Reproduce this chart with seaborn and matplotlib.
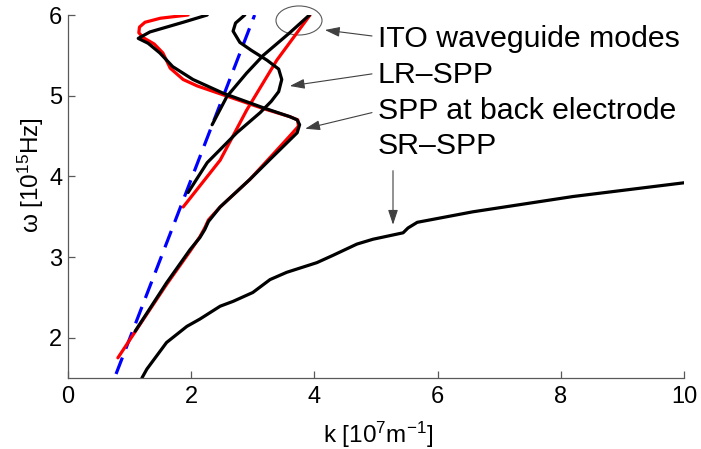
import matplotlib
matplotlib.use("Agg")
import matplotlib.pyplot as plt
import seaborn as sns
from matplotlib.patches import Ellipse

# light line (dashed blue)
k_light = [0.78, 3.03]
w_light = [1.55, 6.0]

# SPP at back electrode, red and black versions
k_back_red = [0.81, 1.2, 1.6, 1.98, 2.14, 2.22, 2.28, 2.47, 2.95, 3.3, 3.6, 3.74, 3.73, 3.6,
              3.17, 2.52, 2.1, 1.87, 1.66, 1.54, 1.4, 1.22, 1.15, 1.16, 1.25, 1.5, 1.95]
w_back_red = [1.75, 2.2, 2.66, 3.07, 3.25, 3.36, 3.46, 3.62, 3.96, 4.25, 4.5, 4.62, 4.7, 4.74,
              4.84, 5.01, 5.12, 5.2, 5.34, 5.53, 5.64, 5.72, 5.78, 5.85, 5.91, 5.96, 6.0]
k_back_blk = [1.09, 1.6, 1.98, 2.14, 2.22, 2.28, 2.47, 2.95, 3.28, 3.6, 3.72, 3.76, 3.72, 3.6,
              3.17, 2.52, 2.03, 1.7, 1.49, 1.3, 1.14, 1.33, 1.87, 2.26]
w_back_blk = [2.08, 2.68, 3.09, 3.24, 3.34, 3.44, 3.62, 3.96, 4.21, 4.45, 4.54, 4.64, 4.7, 4.74,
              4.85, 5.03, 5.2, 5.36, 5.53, 5.65, 5.71, 5.79, 5.91, 6.0]

# ITO waveguide mode (red), LR-SPP and ITO branch (black)
k_ito_red = [1.87, 2.47, 2.9, 3.39, 3.93]
w_ito_red = [3.62, 4.2, 4.82, 5.44, 6.0]
k_lr = [1.95, 2.26, 2.74, 3.12, 3.3, 3.42, 3.47, 3.42, 3.23, 2.98, 2.79, 2.68, 2.72, 2.87]
w_lr = [3.8, 4.17, 4.54, 4.79, 4.93, 5.05, 5.2, 5.33, 5.44, 5.56, 5.66, 5.8, 5.9, 6.0]
k_ito_blk = [2.34, 2.58, 2.9, 3.17, 3.6, 3.92]
w_ito_blk = [4.64, 4.99, 5.28, 5.5, 5.78, 6.0]

# SR-SPP
k_sr = [1.2, 1.28, 1.6, 1.93, 2.14, 2.47, 2.68, 3.0, 3.28, 3.55, 4.04, 4.3, 4.69, 4.95,
        5.44, 5.52, 5.67, 6.57, 8.2, 10.0]
w_sr = [1.5, 1.61, 1.94, 2.14, 2.23, 2.39, 2.45, 2.56, 2.72, 2.81, 2.93, 3.02, 3.16, 3.22,
        3.30, 3.36, 3.43, 3.56, 3.75, 3.92]

labels = ["ITO waveguide modes", "LR\u2013SPP", "SPP at back electrode", "SR\u2013SPP"]

sns.set_style("ticks")
plt.rcParams["font.family"] = ["Liberation Sans", "DejaVu Sans"]
plt.rcParams["mathtext.fontset"] = "custom"
plt.rcParams["mathtext.rm"] = "Liberation Sans"
plt.rcParams["mathtext.it"] = "Liberation Sans:italic"
plt.rcParams["text.color"] = "black"
plt.rcParams["axes.labelcolor"] = "black"

fig = plt.figure(figsize=(7.01, 4.49), dpi=100)
ax = fig.add_axes([68 / 701, 1 - 378 / 449, 616 / 701, 363 / 449])

lw = 2.3
sns.lineplot(x=k_light, y=w_light, sort=False, estimator=None, color="blue", lw=lw,
             linestyle=(0, (5.5, 3.0)), ax=ax)
for kk, ww in [(k_back_red, w_back_red), (k_ito_red, w_ito_red)]:
    sns.lineplot(x=kk, y=ww, sort=False, estimator=None, color="red", lw=lw, ax=ax)
for kk, ww in [(k_back_blk, w_back_blk), (k_lr, w_lr), (k_ito_blk, w_ito_blk), (k_sr, w_sr)]:
    sns.lineplot(x=kk, y=ww, sort=False, estimator=None, color="black", lw=lw, ax=ax)

ax.set_xlim(0, 10)
ax.set_ylim(1.5, 6)
ax.set_xticks([0, 2, 4, 6, 8, 10])
ax.set_yticks([2, 3, 4, 5, 6])
sns.despine(ax=ax)
for s in ["left", "bottom"]:
    ax.spines[s].set_color("0.35")
    ax.spines[s].set_linewidth(0.9)
ax.tick_params(axis="both", direction="in", length=5, width=0.9, color="0.35",
               labelsize=17, labelcolor="black")
ax.tick_params(axis="x", pad=6)
ax.tick_params(axis="y", pad=4)

ax.set_xlabel(r"k [10$^7$m$^{-1}$]", fontsize=17.5)
ax.set_ylabel(r"ω [10$^{15}$Hz]", fontsize=17.5)
ax.xaxis.set_label_coords(0.503, -0.115)
ax.yaxis.set_label_coords(-0.036, 0.56)

ax.add_patch(Ellipse((3.75, 5.932), 0.747, 0.36, fill=False, edgecolor="0.35", lw=0.8,
                     clip_on=False))

text_x = 5.03
text_y = [5.603, 5.157, 4.711, 4.277]
for lab, ty in zip(labels, text_y):
    ax.text(text_x, ty, lab, fontsize=21.8, va="baseline", ha="left", color="black")

arrows = [((4.935, 5.74), (4.17, 5.814)),
          ((4.935, 5.27), (3.60, 5.12)),
          ((4.935, 4.79), (3.85, 4.59)),
          ((5.276, 4.07), (5.276, 3.40))]
for tail, head in arrows:
    ax.annotate("", xy=head, xytext=tail, annotation_clip=False,
                arrowprops=dict(arrowstyle="-|>,head_length=0.9,head_width=0.3",
                                mutation_scale=10, color="0.25", lw=0.8,
                                shrinkA=0, shrinkB=0))

fig.savefig("out.png", dpi=100)
